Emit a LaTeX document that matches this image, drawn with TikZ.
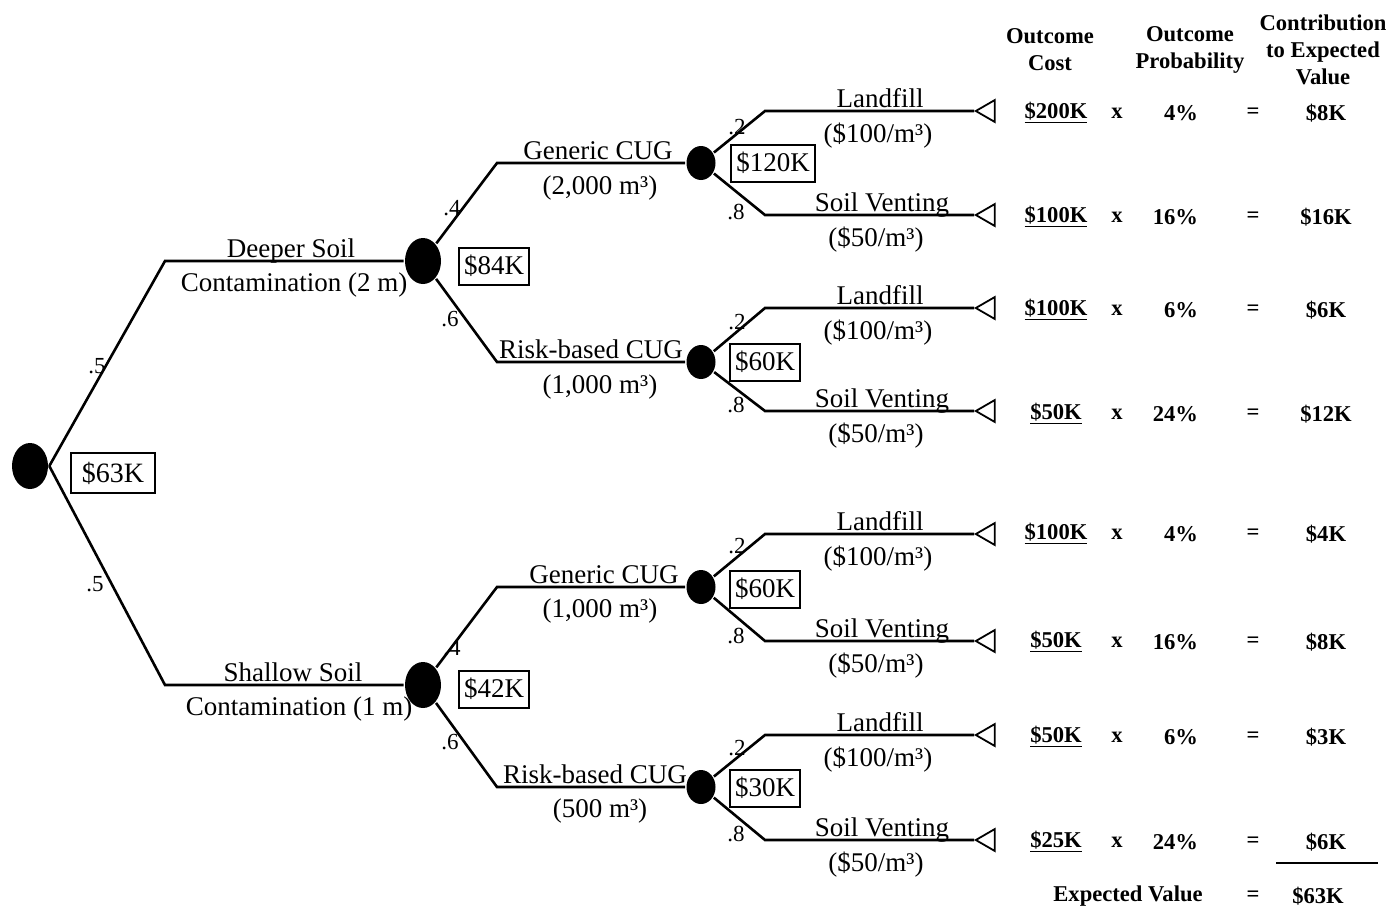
\documentclass[tikz,border=0pt]{standalone}
\usepackage{fontspec}
\setmainfont{Liberation Serif}
\usetikzlibrary{shapes,positioning}

\begin{document}
\begin{tikzpicture}[x=0.5pt,y=-0.5pt,line width=1.3pt,
  bigchance/.style={ellipse, fill=black, inner sep=0pt, minimum width=18pt, minimum height=23pt},
  smallchance/.style={ellipse, fill=black, inner sep=0pt, minimum width=14.5pt, minimum height=17pt},
  valbox/.style={rectangle, draw, line width=1pt, inner xsep=2.5pt, inner ysep=1pt, minimum height=18.5pt, font=\fontsize{13.5}{15}\selectfont},
  endpt/.style={isosceles triangle, isosceles triangle apex angle=60, shape border rotate=180, draw, line width=0.9pt, inner sep=0pt, minimum height=9.5pt, anchor=apex},
  lbl/.style={anchor=base, font=\fontsize{13.5}{15}\selectfont},
  prob/.style={font=\fontsize{11.5}{13}\selectfont},
  tab/.style={font=\bfseries\fontsize{11.3}{13.5}\selectfont, align=center}]
\useasboundingbox (0,0) rectangle (1392,907);

% chance nodes
\node[bigchance] (root) at (30,466) {};
\node[bigchance] (deep) at (423,261) {};
\node[bigchance] (shal) at (423,685) {};
\node[smallchance] (dgen) at (701,163) {};
\node[smallchance] (drisk) at (701,362) {};
\node[smallchance] (sgen) at (701,587) {};
\node[smallchance] (srisk) at (701,787) {};

% expected values
\node[valbox, inner xsep=5.5pt, minimum height=20pt, font=\fontsize{14}{16}\selectfont] (rootval) at (113,473) {\$63K};
\node[valbox] (deepval) at (494,266) {\$84K};
\node[valbox] (shalval) at (494,689) {\$42K};
\node[valbox] (dgenval) at (773,163) {\$120K};
\node[valbox] (driskval) at (765,362) {\$60K};
\node[valbox] (sgenval) at (765,589) {\$60K};
\node[valbox] (sriskval) at (765,788) {\$30K};

% end points
\node[endpt] (t1) at (974,111) {};
\node[endpt] (t2) at (974,215) {};
\node[endpt] (t3) at (974,308) {};
\node[endpt] (t4) at (974,411) {};
\node[endpt] (t5) at (974,534) {};
\node[endpt] (t6) at (974,641) {};
\node[endpt] (t7) at (974,735) {};
\node[endpt] (t8) at (974,840) {};

% branches
\draw (root.east) -- (165,261) -- (deep);
\draw (root.east) -- (165,685) -- (shal);
\draw (deep) -- (497,163) -- (dgen);
\draw (deep) -- (497,362) -- (drisk);
\draw (shal) -- (497,587) -- (sgen);
\draw (shal) -- (497,787) -- (srisk);
\draw (dgen) -- (765,111) -- (t1.apex);
\draw (dgen) -- (765,215) -- (t2.apex);
\draw (drisk) -- (765,308) -- (t3.apex);
\draw (drisk) -- (765,411) -- (t4.apex);
\draw (sgen) -- (765,534) -- (t5.apex);
\draw (sgen) -- (765,641) -- (t6.apex);
\draw (srisk) -- (765,735) -- (t7.apex);
\draw (srisk) -- (765,840) -- (t8.apex);

% probabilities
\node[prob] at (97,366) {.5};
\node[prob] at (95,584) {.5};
\node[prob] at (452,208) {.4};
\node[prob] at (450,319) {.6};
\node[prob] at (452,648) {.4};
\node[prob] at (450,742) {.6};
\node[prob] at (737,127) {.2};
\node[prob] at (736,212) {.8};
\node[prob] at (737,322) {.2};
\node[prob] at (736,405) {.8};
\node[prob] at (737,546) {.2};
\node[prob] at (736,636) {.8};
\node[prob] at (737,748) {.2};
\node[prob] at (736,834) {.8};

% branch labels
\node[lbl] at (291,257) {Deeper Soil};
\node[lbl] at (294,291) {Contamination (2 m)};
\node[lbl] at (293,681) {Shallow Soil};
\node[lbl] at (299,715) {Contamination (1 m)};
\node[lbl] at (598,159) {Generic CUG};
\node[lbl] at (600,194) {(2,000 m³)};
\node[lbl] at (591,358) {Risk-based CUG};
\node[lbl] at (600,393) {(1,000 m³)};
\node[lbl] at (604,583) {Generic CUG};
\node[lbl] at (600,617) {(1,000 m³)};
\node[lbl] at (595,783) {Risk-based CUG};
\node[lbl] at (600,817) {(500 m³)};
\node[lbl] at (880,107) {Landfill};
\node[lbl] at (878,142) {(\$100/m³)};
\node[lbl] at (882,211) {Soil Venting};
\node[lbl] at (876,246) {(\$50/m³)};
\node[lbl] at (880,304) {Landfill};
\node[lbl] at (878,339) {(\$100/m³)};
\node[lbl] at (882,407) {Soil Venting};
\node[lbl] at (876,442) {(\$50/m³)};
\node[lbl] at (880,530) {Landfill};
\node[lbl] at (878,565) {(\$100/m³)};
\node[lbl] at (882,637) {Soil Venting};
\node[lbl] at (876,672) {(\$50/m³)};
\node[lbl] at (880,731) {Landfill};
\node[lbl] at (878,766) {(\$100/m³)};
\node[lbl] at (882,836) {Soil Venting};
\node[lbl] at (876,871) {(\$50/m³)};

% table headers
\node[tab] (hcost) at (1050,50) {Outcome\\Cost};
\node[tab] (hprob) at (1190,50) {Outcome\\Probability};
\node[tab] (hcontr) at (1323,50) {Contribution\\to Expected\\Value};

% table rows
\node[tab] (c1) at (1056,113) {\underline{\$200K}};
\node[tab] at (1117,113) {x};
\node[tab, anchor=east] (p1) at (1206,113) {4\%};
\node[tab] at (1253,113) {=};
\node[tab] (v1) at (1326,113) {\$8K};

\node[tab] (c2) at (1056,217) {\underline{\$100K}};
\node[tab] at (1117,217) {x};
\node[tab, anchor=east] (p2) at (1206,217) {16\%};
\node[tab] at (1253,217) {=};
\node[tab] (v2) at (1326,217) {\$16K};

\node[tab] (c3) at (1056,310) {\underline{\$100K}};
\node[tab] at (1117,310) {x};
\node[tab, anchor=east] (p3) at (1206,310) {6\%};
\node[tab] at (1253,310) {=};
\node[tab] (v3) at (1326,310) {\$6K};

\node[tab] (c4) at (1056,414) {\underline{\$50K}};
\node[tab] at (1117,414) {x};
\node[tab, anchor=east] (p4) at (1206,414) {24\%};
\node[tab] at (1253,414) {=};
\node[tab] (v4) at (1326,414) {\$12K};

\node[tab] (c5) at (1056,534) {\underline{\$100K}};
\node[tab] at (1117,534) {x};
\node[tab, anchor=east] (p5) at (1206,534) {4\%};
\node[tab] at (1253,534) {=};
\node[tab] (v5) at (1326,534) {\$4K};

\node[tab] (c6) at (1056,642) {\underline{\$50K}};
\node[tab] at (1117,642) {x};
\node[tab, anchor=east] (p6) at (1206,642) {16\%};
\node[tab] at (1253,642) {=};
\node[tab] (v6) at (1326,642) {\$8K};

\node[tab] (c7) at (1056,737) {\underline{\$50K}};
\node[tab] at (1117,737) {x};
\node[tab, anchor=east] (p7) at (1206,737) {6\%};
\node[tab] at (1253,737) {=};
\node[tab] (v7) at (1326,737) {\$3K};

\node[tab] (c8) at (1056,842) {\underline{\$25K}};
\node[tab] at (1117,842) {x};
\node[tab, anchor=east] (p8) at (1206,842) {24\%};
\node[tab] at (1253,842) {=};
\node[tab] (v8) at (1326,842) {\$6K};

% total
\draw (1276,863) -- (1378,863);
\node[tab] (evlabel) at (1128,896) {Expected Value};
\node[tab] at (1253,896) {=};
\node[tab] (ev) at (1318,896) {\$63K};
\end{tikzpicture}
\end{document}
